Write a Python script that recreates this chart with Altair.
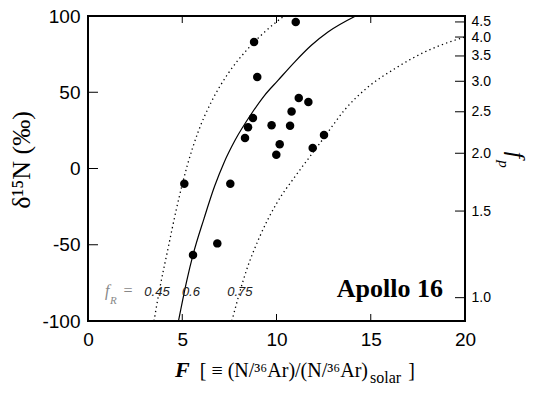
import altair as alt
import pandas as pd

# ---------------- data ----------------
# measured samples: F and delta15N (per mil)
F_meas = [8.81, 8.98, 8.75, 8.49, 8.33, 9.74, 10.17, 9.99, 11.02, 11.18,
          11.69, 10.80, 10.72, 12.52, 11.92, 5.11, 7.55, 6.86, 5.57]
d15N_meas = [82.9, 60.0, 33.1, 27.0, 20.0, 28.3, 15.9, 9.0, 96.1, 46.2,
             43.6, 37.3, 28.1, 22.0, 13.4, -10.0, -10.0, -49.1, -56.7]

# model curves (f_R = 0.45, 0.6, 0.75)
fr045_F = [3.50, 3.80, 4.24, 4.69, 5.27, 5.84, 6.54, 7.43, 8.49, 9.37, 9.99, 10.4]
fr045_d = [-100, -79.2, -52.8, -26.6, 2.1, 23.9, 43.6, 62.2, 78.6, 89.5, 96.1, 100]

fr060_F = [4.80, 5.25, 5.57, 6.15, 6.72, 7.22, 7.80, 8.67, 9.37, 10.08, 10.96, 11.85, 12.73, 14.2]
fr060_d = [-100, -73.0, -56.7, -33.0, -11.5, 4.0, 18.5, 35.9, 48.0, 57.8, 69.8, 80.8, 89.5, 100]

fr075_F = [7.63, 8.40, 9.10, 10.0, 11.0, 11.6, 12.15, 12.65, 13.62, 14.85, 16.27, 17.86, 19.45, 20.0]
fr075_d = [-100, -67.0, -45.0, -23.0, -5.0, 5.0, 14.0, 22.5, 38.5, 53.4, 65.4, 76.4, 84.1, 86.2]

fr_labels = ["0.45", "0.6", "0.75"]
fr_label_F = [3.66, 5.46, 8.06]

# right axis: f_p labels and the delta15N level where each tick sits
fp_labels = ["4.5", "4.0", "3.5", "3.0", "2.5", "2.0", "1.5", "1.0"]
fp_pos = [96.1, 86.2, 73.8, 57.2, 37.2, 10.0, -27.9, -84.7]

x_ticks = [0, 5, 10, 15, 20]
y_ticks = [-100, -50, 0, 50, 100]
x_inner_ticks = [5, 10, 15]
y_inner_ticks = [50, 0, -50]

# ---------------- tables ----------------
pts = pd.DataFrame({"F": F_meas, "d": d15N_meas})
c045 = pd.DataFrame({"F": fr045_F, "d": fr045_d})
c060 = pd.DataFrame({"F": fr060_F, "d": fr060_d})
c075 = pd.DataFrame({"F": fr075_F, "d": fr075_d})

xs = alt.Scale(domain=[0, 20], nice=False, zero=False)
ys = alt.Scale(domain=[-100, 100], nice=False, zero=False)

xaxis = alt.Axis(values=x_ticks, orient="bottom", tickSize=0, domain=False, grid=False,
                 title=None, labelFont="Liberation Sans", labelFontSize=19,
                 labelColor="black", labelPadding=9, labelFlush=False, labelOverlap=False)
yaxis = alt.Axis(values=y_ticks, orient="left", tickSize=0, domain=False, grid=False,
                 title=None, labelFont="Liberation Sans", labelFontSize=19,
                 labelColor="black", labelPadding=8, labelOverlap=False,
                 labelExpr="datum.value < 0 ? '-' + abs(datum.value) : '' + datum.value")
fp_expr = " : ".join(f"datum.value == {p} ? '{l}'" for p, l in zip(fp_pos, fp_labels)) + " : ''"
raxis = alt.Axis(values=fp_pos, orient="right", tickSize=0, domain=False, grid=False,
                 title=None, labelFont="Liberation Sans", labelFontSize=14,
                 labelColor="black", labelPadding=6, labelOverlap=False, labelExpr=fp_expr)


def X(field):
    # same explicit axis in every layer so the shared x axis merges cleanly
    return alt.X(field, type="quantitative", scale=xs, axis=xaxis)


def Y(field, axis=None):
    return alt.Y(field, type="quantitative", scale=ys, axis=axis)


def curve(df, dashed):
    kw = dict(color="black", strokeWidth=1.2, clip=True, interpolate="monotone")
    if dashed:
        kw["strokeDash"] = [1.3, 3.2]
        kw["strokeWidth"] = 1.3
    return alt.Chart(df).mark_line(**kw).encode(x=X("F"), y=Y("d"))


lines = [curve(c045, True), curve(c060, False), curve(c075, True)]

points = alt.Chart(pts).mark_circle(size=72, color="black", opacity=1).encode(
    x=X("F"), y=Y("d"))

# inward ticks (first layer also carries the left axis)
lt = pd.DataFrame({"y": y_inner_ticks, "x0": [0] * 3, "x1": [0.53] * 3})
left_ticks = alt.Chart(lt).mark_rule(color="black", strokeWidth=1).encode(
    x=X("x0"), x2="x1", y=Y("y", yaxis))
bt = pd.DataFrame({"x": x_inner_ticks, "y0": [-100] * 3, "y1": [-95.4] * 3})
bottom_ticks = alt.Chart(bt).mark_rule(color="black", strokeWidth=1).encode(
    x=X("x"), y=Y("y0"), y2="y1")
tt = pd.DataFrame({"x": x_inner_ticks, "y0": [100] * 3, "y1": [95.4] * 3})
top_ticks = alt.Chart(tt).mark_rule(color="black", strokeWidth=1).encode(
    x=X("x"), y=Y("y0"), y2="y1")
rt = pd.DataFrame({"y": fp_pos, "x0": [20] * len(fp_pos), "x1": [19.47] * len(fp_pos)})
right_ticks = alt.Chart(rt).mark_rule(color="black", strokeWidth=1).encode(
    x=X("x0"), x2="x1", y=Y("y", raxis))

# in-plot annotations (data coordinates)
fr_df = pd.DataFrame({"F": fr_label_F, "d": [-83.6] * 3, "t": fr_labels})
fr_nums = alt.Chart(fr_df).mark_text(font="Liberation Sans", fontStyle="italic", fontSize=13,
                                     color="#222222", align="center", baseline="alphabetic").encode(
    x=X("F"), y=Y("d"), text="t:N")
f_df = pd.DataFrame({"F": [0.90], "d": [-83.6], "t": ["f"]})
f_txt = alt.Chart(f_df).mark_text(font="Liberation Serif", fontStyle="italic", fontSize=16,
                                  color="#888888", align="left", baseline="alphabetic").encode(
    x=X("F"), y=Y("d"), text="t:N")
r_df = pd.DataFrame({"F": [1.17], "d": [-89.0], "t": ["R"]})
r_txt = alt.Chart(r_df).mark_text(font="Liberation Serif", fontStyle="italic", fontSize=11,
                                  color="#888888", align="left", baseline="alphabetic").encode(
    x=X("F"), y=Y("d"), text="t:N")
eq_df = pd.DataFrame({"F": [2.12], "d": [-83.6], "t": ["="]})
eq_txt = alt.Chart(eq_df).mark_text(font="Liberation Serif", fontSize=16,
                                    color="#888888", align="center", baseline="alphabetic").encode(
    x=X("F"), y=Y("d"), text="t:N")
ap_df = pd.DataFrame({"F": [18.83], "d": [-84.3], "t": ["Apollo 16"]})
ap_txt = alt.Chart(ap_df).mark_text(font="Liberation Serif", fontWeight="bold", fontSize=26,
                                    color="black", align="right", baseline="alphabetic").encode(
    x=X("F"), y=Y("d"), text="t:N")


# titles (pixel positions relative to the plot area)
def ptext(txt, x, y, **kw):
    return alt.Chart(pd.DataFrame({"t": [txt]})).mark_text(**kw).encode(
        x=alt.value(x), y=alt.value(y), text="t:N")


titles = [
    ptext("F", 87, 361, font="Liberation Serif", fontStyle="italic", fontWeight="bold",
          fontSize=22, align="left", baseline="alphabetic", color="black"),
    ptext("[ \u2261 (N/\u00b3\u2076Ar)/(N/\u00b3\u2076Ar)", 280, 361, font="Liberation Serif",
          fontSize=20, align="right", baseline="alphabetic", color="black"),
    ptext("solar", 282, 367, font="Liberation Serif", fontSize=16, align="left",
          baseline="alphabetic", color="black"),
    ptext("]", 327, 361, font="Liberation Serif", fontSize=20, align="right",
          baseline="alphabetic", color="black"),
    ptext("\u03b4\u00b9\u2075N (\u2030)", -66, 144, font="Liberation Serif", fontSize=26,
          angle=270, align="center", baseline="middle", color="black"),
    ptext("f", 428, 139, font="Liberation Serif", fontStyle="italic", fontSize=23,
          angle=90, align="center", baseline="middle", color="black"),
    ptext("p", 416, 148, font="Liberation Serif", fontStyle="italic", fontSize=15,
          angle=90, align="center", baseline="middle", color="black"),
]

chart = alt.layer(left_ticks, *lines, points, right_ticks, bottom_ticks, top_ticks,
                  fr_nums, f_txt, r_txt, eq_txt, ap_txt, *titles).resolve_axis(
    y="independent").properties(
    width=377, height=305,
    autosize=alt.AutoSizeParams(type="none"),
    padding={"left": 80, "top": 8, "right": 65, "bottom": 70},
    background="white",
).configure_view(stroke="black", strokeWidth=2)

chart.save("out.html", embed_options={"renderer": "svg", "actions": False})
